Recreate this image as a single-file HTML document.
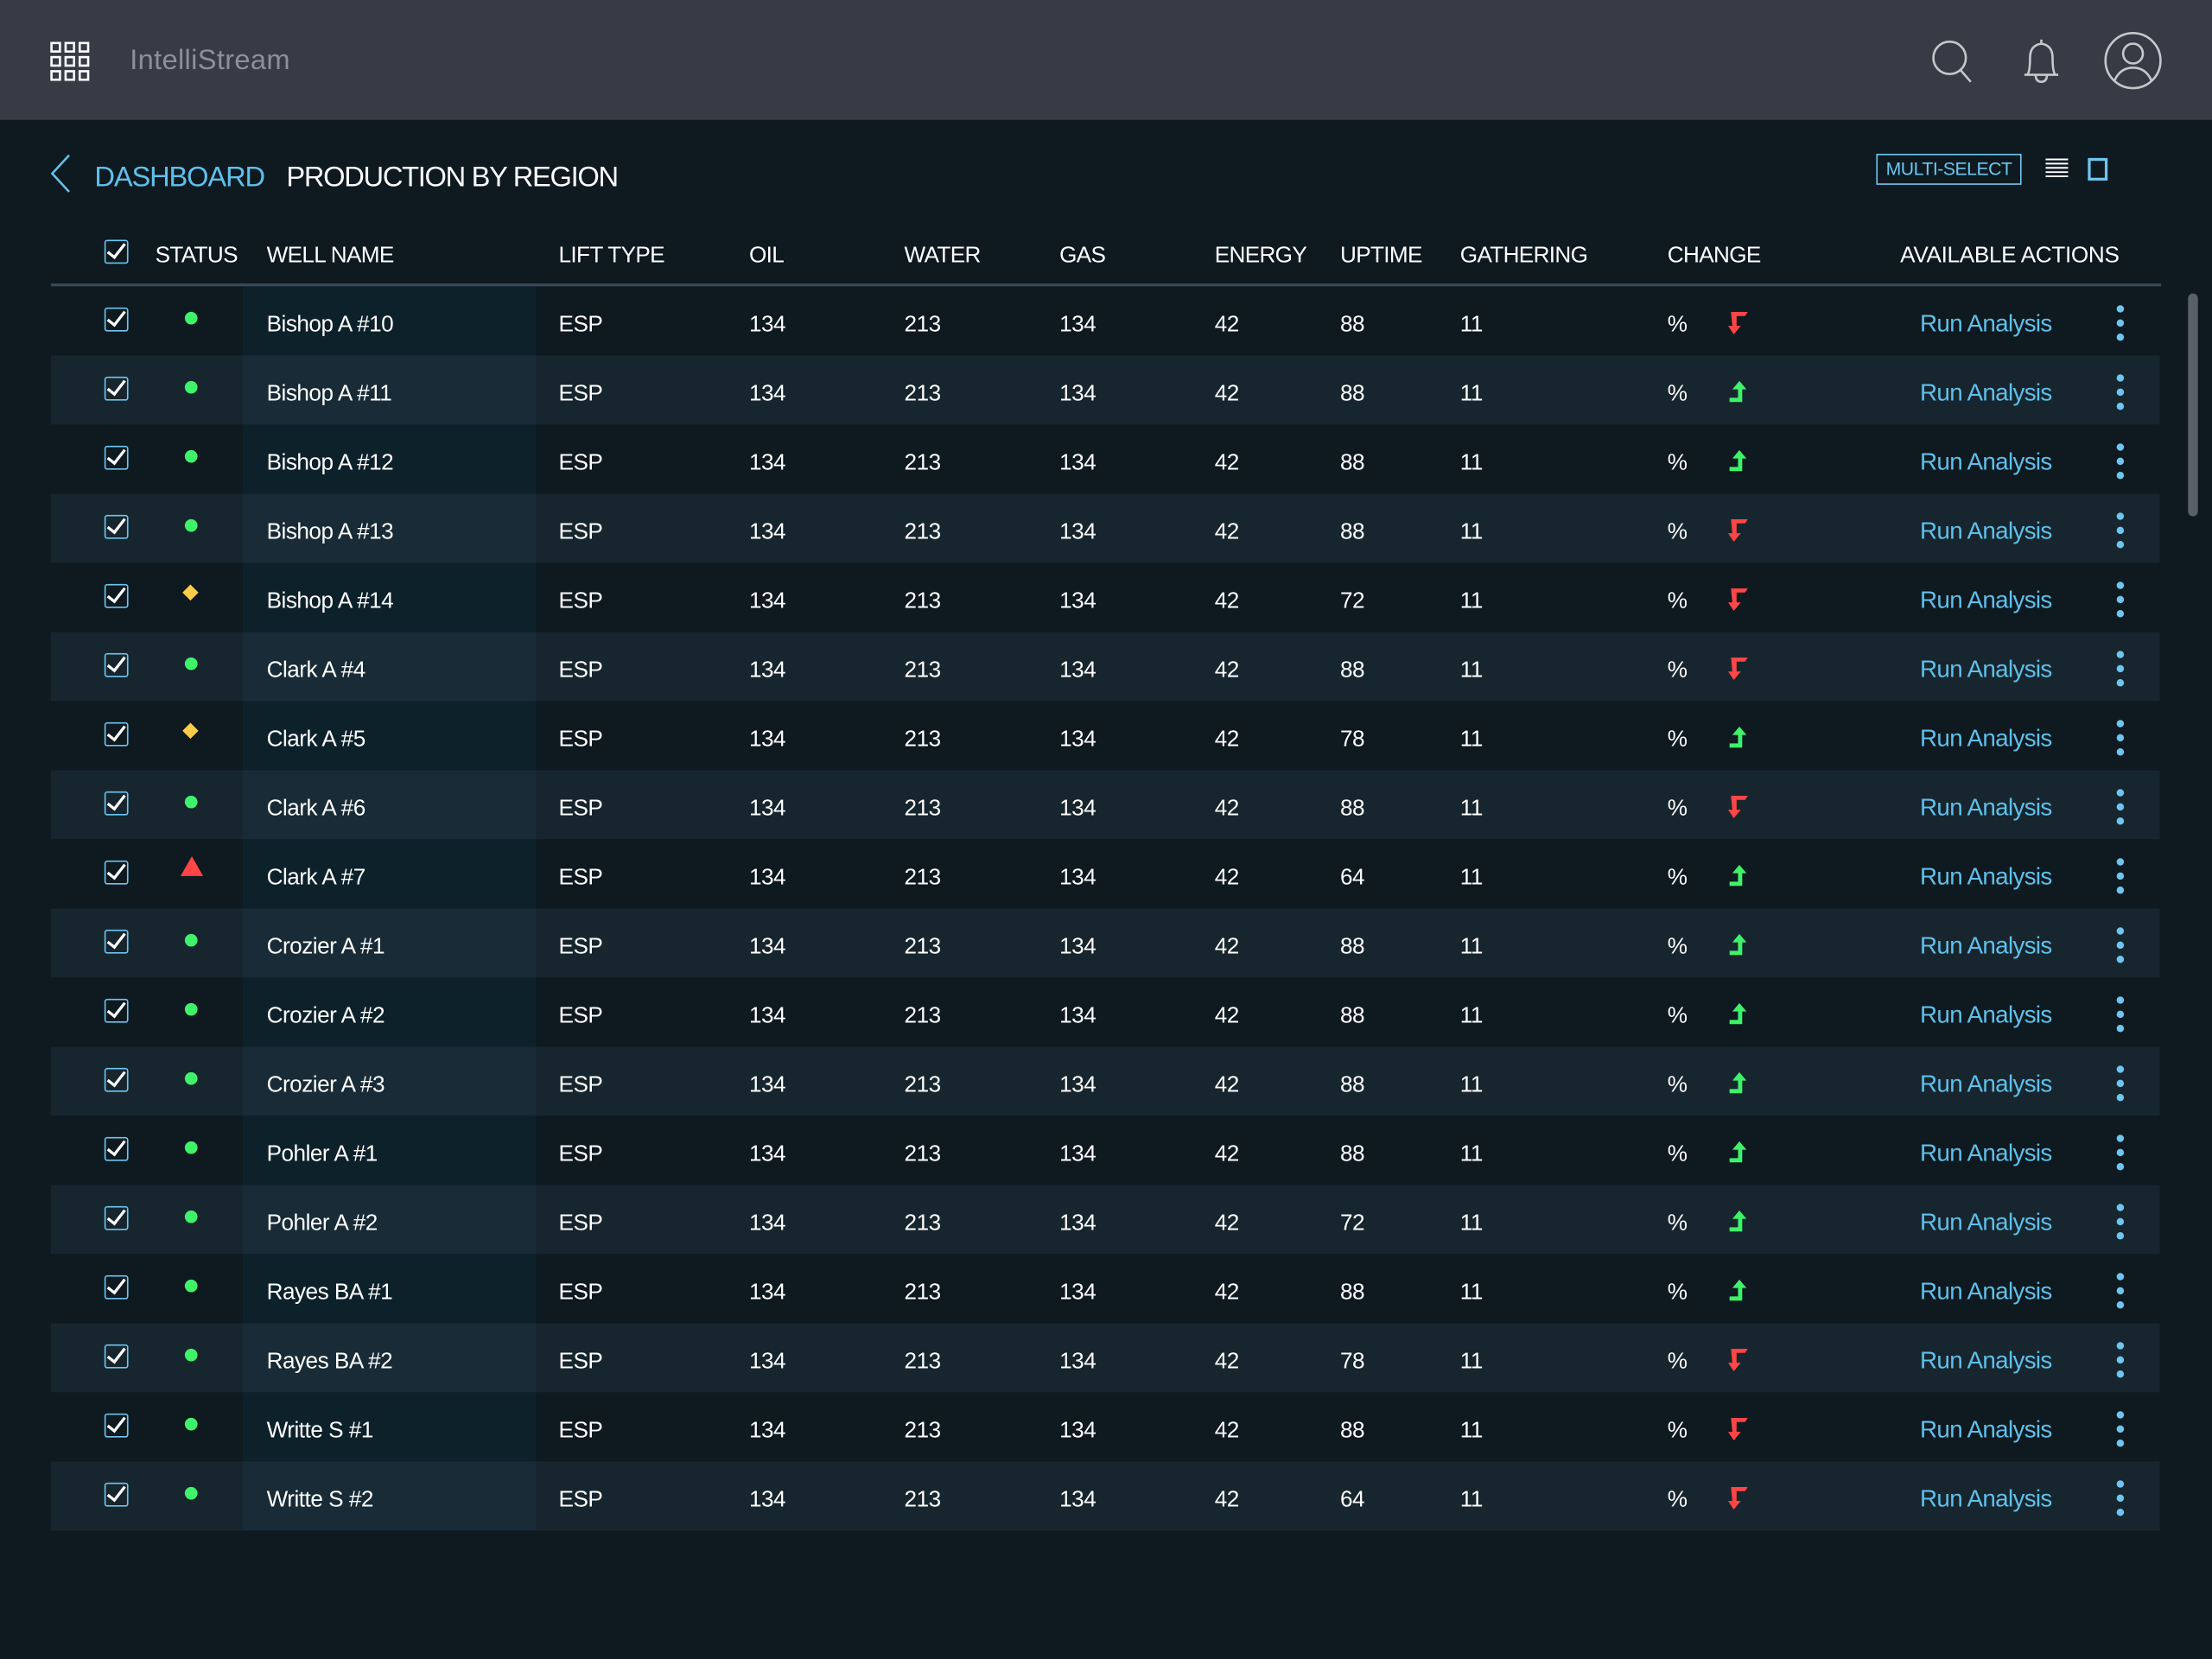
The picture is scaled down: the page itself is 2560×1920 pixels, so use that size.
<!DOCTYPE html>
<html><head><meta charset="utf-8"><style>
html,body{margin:0;padding:0;width:2560px;height:1920px;overflow:hidden;background:#0e1920;}
#wrap{position:absolute;left:0;top:0;width:1568px;height:1176px;transform:scale(1.632653);transform-origin:0 0;background:#0e1920;font-family:"Liberation Sans",sans-serif;color:#fff;}
.abs{position:absolute;}
.t{position:absolute;font-size:16px;white-space:nowrap;letter-spacing:-0.3px;}
.hd{position:absolute;font-size:16px;top:173px;white-space:nowrap;letter-spacing:-0.4px;}
.cb{position:absolute;width:15px;height:15px;border:1.5px solid #6cc6f0;border-radius:2px;}
.cb:after{content:"";position:absolute;left:4px;top:-1px;width:5px;height:11px;border-right:2.5px solid #fff;border-bottom:2.5px solid #fff;transform:rotate(38deg);}
</style></head><body>
<div id="wrap">
 <div class="abs" style="left:0;top:0;width:1568px;height:85px;background:#363b45;"></div>
 <svg class="abs" style="left:35px;top:29px" width="30" height="30" viewBox="0 0 30 30">
  <g fill="none" stroke="#fff" stroke-width="1.6">
   <rect x="1.5" y="1.5" width="6" height="6"/><rect x="11.5" y="1.5" width="6" height="6"/><rect x="21.5" y="1.5" width="6" height="6"/>
   <rect x="1.5" y="11.5" width="6" height="6"/><rect x="11.5" y="11.5" width="6" height="6"/><rect x="21.5" y="11.5" width="6" height="6"/>
   <rect x="1.5" y="21.5" width="6" height="6"/><rect x="11.5" y="21.5" width="6" height="6"/><rect x="21.5" y="21.5" width="6" height="6"/>
  </g></svg>
 <div class="abs" style="left:92px;top:32px;font-size:20px;color:#8b9099;letter-spacing:0.2px;">IntelliStream</div>
 <svg class="abs" style="left:1368px;top:27px" width="32" height="32" viewBox="0 0 32 32"><circle cx="14" cy="14" r="11.5" fill="none" stroke="#c4c7cc" stroke-width="1.6"/><line x1="22" y1="23" x2="29" y2="31" stroke="#c4c7cc" stroke-width="1.6"/></svg>
 <svg class="abs" style="left:1432px;top:27px" width="30" height="32" viewBox="0 0 30 32"><path d="M3 26 H27 M5 26 Q7 24 7 14 Q7 5 15 4 Q23 5 23 14 Q23 24 25 26" fill="none" stroke="#c4c7cc" stroke-width="1.6"/><path d="M11 26 Q11 31 15 31 Q19 31 19 26" fill="none" stroke="#c4c7cc" stroke-width="1.6"/><line x1="15" y1="1" x2="15" y2="4" stroke="#c4c7cc" stroke-width="1.6"/></svg>
 <svg class="abs" style="left:1491px;top:22px" width="42" height="42" viewBox="0 0 42 42"><circle cx="21" cy="21" r="19.5" fill="none" stroke="#c4c7cc" stroke-width="1.6"/><circle cx="21" cy="16" r="7" fill="none" stroke="#c4c7cc" stroke-width="1.6"/><path d="M8 35 Q12 26 21 26 Q30 26 34 35" fill="none" stroke="#c4c7cc" stroke-width="1.6"/></svg>

 <svg class="abs" style="left:34px;top:109px" width="18" height="28" viewBox="0 0 18 28"><path d="M15 1 L3 14 L15 27" fill="none" stroke="#5fc0ea" stroke-width="1.6"/></svg>
 <div class="abs" style="left:67px;top:115px;font-size:20px;color:#5fc0ea;letter-spacing:-0.7px;">DASHBOARD</div>
 <div class="abs" style="left:203px;top:115px;font-size:20px;color:#fff;letter-spacing:-0.8px;">PRODUCTION BY REGION</div>
 <div class="abs" style="left:1330px;top:109px;width:101px;height:20px;border:1.5px solid #6cc6f0;color:#6cc6f0;font-size:13px;line-height:20px;text-align:center;letter-spacing:-0.3px;">MULTI-SELECT</div>
 <svg class="abs" style="left:1450px;top:112px" width="16" height="16" viewBox="0 0 16 16"><g stroke="#fff" stroke-width="1.2"><line x1="0" y1="1" x2="16" y2="1"/><line x1="0" y1="4" x2="16" y2="4"/><line x1="0" y1="7" x2="16" y2="7"/><line x1="0" y1="10" x2="16" y2="10"/><line x1="0" y1="13" x2="16" y2="13"/></g></svg>
 <div class="abs" style="left:1480px;top:112px;width:10px;height:12px;border:2.5px solid #6cc6f0;"></div>

 <div class="cb" style="left:74px;top:170px;"></div>
 <div class="hd" style="left:110px">STATUS</div>
 <div class="hd" style="left:189px">WELL NAME</div>
 <div class="hd" style="left:396px">LIFT TYPE</div>
 <div class="hd" style="left:531px">OIL</div>
 <div class="hd" style="left:641px">WATER</div>
 <div class="hd" style="left:751px">GAS</div>
 <div class="hd" style="left:861px">ENERGY</div>
 <div class="hd" style="left:950px">UPTIME</div>
 <div class="hd" style="left:1035px">GATHERING</div>
 <div class="hd" style="left:1182px">CHANGE</div>
 <div class="hd" style="left:1347px;letter-spacing:-0.2px">AVAILABLE ACTIONS</div>
 <div class="abs" style="left:36px;top:201px;width:1496px;height:2px;background:#3a4a56;"></div>
 <div id="rows"></div>
 <div class="abs" style="left:1551px;top:208px;width:7px;height:158px;border-radius:4px;background:#5a6068;"></div>
</div>
<script>
const names=["Bishop A #10","Bishop A #11","Bishop A #12","Bishop A #13","Bishop A #14","Clark A #4","Clark A #5","Clark A #6","Clark A #7","Crozier A #1","Crozier A #2","Crozier A #3","Pohler A #1","Pohler A #2","Rayes BA #1","Rayes BA #2","Writte S #1","Writte S #2"];
const statuses=["ok","ok","ok","ok","warn","ok","warn","ok","alert","ok","ok","ok","ok","ok","ok","ok","ok","ok"];
const oil=[134,134,134,134,134,134,134,134,134,134,134,134,134,134,134,134,134,134];
const water=[213,213,213,213,213,213,213,213,213,213,213,213,213,213,213,213,213,213];
const gas=[134,134,134,134,134,134,134,134,134,134,134,134,134,134,134,134,134,134];
const energy=[42,42,42,42,42,42,42,42,42,42,42,42,42,42,42,42,42,42];
const uptime=[88,88,88,88,72,88,78,88,64,88,88,88,88,72,88,78,88,64];
const gathering=[11,11,11,11,11,11,11,11,11,11,11,11,11,11,11,11,11,11];
const changeDir=["down","up","up","down","down","down","up","down","up","up","up","up","up","up","up","down","down","down"];
const root=document.getElementById('rows');
function mk(tag,css,html){const e=document.createElement(tag);e.style.cssText=css;if(html!==undefined)e.innerHTML=html;root.appendChild(e);return e;}
names.forEach((n,i)=>{
 const y=203+i*49, alt=i%2===1;
 let e=mk('div',`position:absolute;left:36px;top:${y}px;width:1495px;height:49px;background:${alt?'#17252e':'#0e1920'};`);
 
 
 e=mk('div',`position:absolute;left:172px;top:${y}px;width:208px;height:49px;background:${alt?'#182b36':'#0d212b'};`);
 
 
 const cy=y+25;
 e=mk('div','');e.className='cb';e.style.cssText=`left:74px;top:${cy-10}px;`;
 
 
 let st;
 if(statuses[i]==='ok') st=`<div style="position:absolute;left:131px;top:${cy-7}px;width:9px;height:9px;border-radius:50%;background:#3ef26a"></div>`;
 else if(statuses[i]==='warn') st=`<div style="position:absolute;left:131px;top:${cy-8}px;width:8px;height:8px;background:#ffcd45;transform:rotate(45deg)"></div>`;
 else st=`<svg style="position:absolute;left:128px;top:${cy-13}px" width="16" height="15"><polygon points="8,0 16,14 0,14" fill="#ff4545"/></svg>`;
 e=mk('div','',st);
 
 
 const cols=[[189,n,'well-name'],[396,'ESP','lift-type'],[531,oil[i],'oil-value'],[641,water[i],'water-value'],[751,gas[i],'gas-value'],[861,energy[i],'energy-value'],[950,uptime[i],'uptime-value'],[1035,gathering[i],'gathering-value'],[1182,'%','change-value']];
 cols.forEach(c=>{
  const t=mk('div','',String(c[1]));t.className='t';t.style.left=c[0]+'px';t.style.top=(cy-6)+'px';
  
  
 });
 const up=changeDir[i]==='up';
 const arr=up?`<svg style="position:absolute;left:1225px;top:${cy-7}px" width="14" height="16"><polygon points="8,0 13,6 10,6 10,15 1,15 1,12 7,12 7,6 3,6" fill="#3ef26a"/></svg>`
           :`<svg style="position:absolute;left:1225px;top:${cy-7}px" width="14" height="16"><polygon points="2,0 14,0 12,3 6,3 6,10 9,10 4,16 0,10 3,10" fill="#ff4545"/></svg>`;
 e=mk('div','',arr);
 
 
 e=mk('div',`position:absolute;left:1361px;top:${cy-8}px;font-size:17px;color:#5fc0ea;white-space:nowrap;letter-spacing:-0.4px;`,'Run Analysis');
 
 
 e=mk('div','',`<svg style="position:absolute;left:1499px;top:${cy-12}px" width="8" height="26"><circle cx="4" cy="3" r="2.6" fill="#6cc6f0"/><circle cx="4" cy="13" r="2.6" fill="#6cc6f0"/><circle cx="4" cy="23" r="2.6" fill="#6cc6f0"/></svg>`);
 
 
});
</script>
</body></html>
